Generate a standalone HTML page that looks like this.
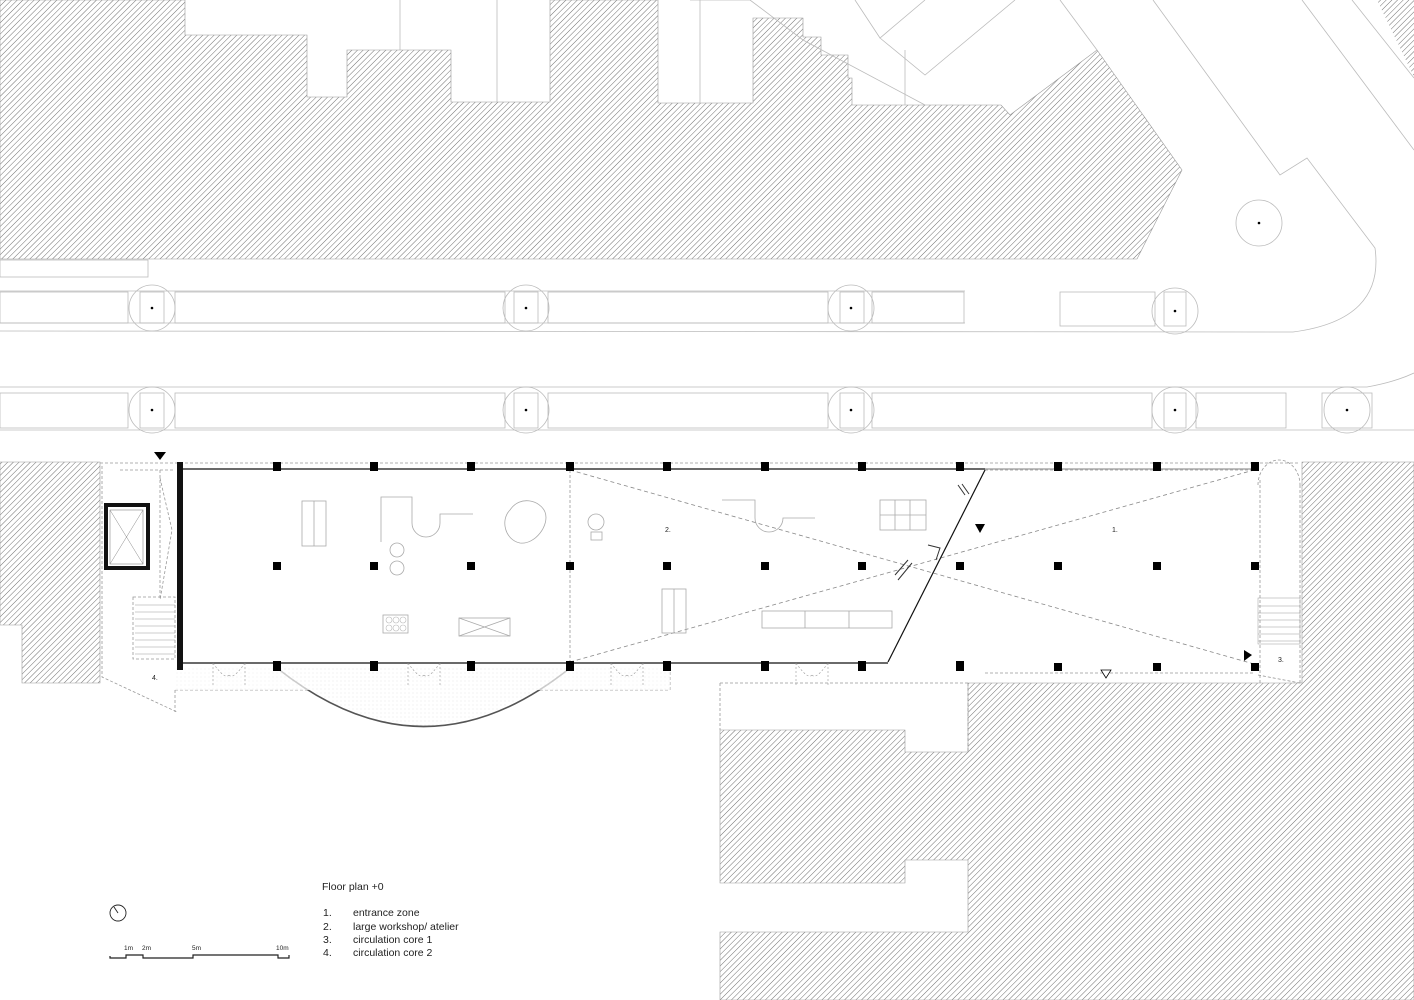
<!DOCTYPE html>
<html><head><meta charset="utf-8"><style>
html,body{margin:0;padding:0;background:#fff;}
svg{display:block;}
text{font-family:"Liberation Sans",sans-serif;fill:#222;}
</style></head><body>
<svg width="1414" height="1000" viewBox="0 0 1414 1000" xmlns="http://www.w3.org/2000/svg">
<defs>
<pattern id="h" patternUnits="userSpaceOnUse" width="4" height="4" patternTransform="rotate(45)">
<rect width="4" height="4" fill="#fff"/>
<line x1="0" y1="0" x2="0" y2="4" stroke="#707070" stroke-width="1"/>
</pattern>
<pattern id="d" patternUnits="userSpaceOnUse" width="4" height="4"><rect width="4" height="4" fill="#fff"/><circle cx="1" cy="1" r="0.4" fill="#ccc"/></pattern>
</defs>
<rect width="1414" height="1000" fill="#fff"/>

<!-- top hatched block -->
<path d="M0,0 L185,0 L185,35 L307,35 L307,97 L347,97 L347,50 L451,50 L451,102 L550,102 L550,0 L658,0 L658,103 L753,103 L753,18 L803,18 L803,37 L821,37 L821,55 L848,55 L848,78 L852,78 L852,105 L1001,105 L1010,115 L1097,50 L1182,170 L1137,259 L0,259 Z" fill="url(#h)" stroke="#999" stroke-width="0.6"/>
<path d="M1377,0 L1414,0 L1414,77 Z" fill="url(#h)"/>
<g fill="none" stroke="#bbb" stroke-width="0.8">
<line x1="400" y1="0" x2="400" y2="50"/><line x1="497" y1="0" x2="497" y2="102"/><line x1="700" y1="0" x2="700" y2="103"/><line x1="905" y1="50" x2="905" y2="105"/>
<polyline points="690,0 750,0 803,40 925,105"/>
<polyline points="855,0 880,38 925,0"/><polyline points="880,38 925,75 1015,0"/>
<line x1="1060" y1="0" x2="1097" y2="50"/>
<path d="M1153,0 L1280,175 L1307,158 L1375,248 Q1385,320 1293,332 L0,331"/>
<line x1="1302" y1="0" x2="1414" y2="150"/>
<line x1="1352" y1="0" x2="1414" y2="78"/>
<path d="M0,387 L1367,387 Q1395,382 1414,373"/>
<rect x="0" y="260" width="148" height="17"/>
<!-- street tree rows -->
<line x1="0" y1="291" x2="965" y2="291"/><line x1="0" y1="323" x2="965" y2="323"/>
<rect x="0" y="292" width="128" height="31"/><rect x="175" y="292" width="330" height="31"/><rect x="548" y="292" width="280" height="31"/><rect x="872" y="292" width="92" height="31"/><rect x="1060" y="292" width="95" height="34"/>
<rect x="0" y="393" width="128" height="35"/><rect x="175" y="393" width="330" height="35"/><rect x="548" y="393" width="280" height="35"/><rect x="872" y="393" width="280" height="35"/><rect x="1196" y="393" width="90" height="35"/><rect x="1322" y="393" width="50" height="35"/>
<line x1="0" y1="430" x2="1414" y2="430"/>
<rect x="140" y="292" width="24" height="31"/><rect x="514" y="292" width="24" height="31"/><rect x="840" y="292" width="24" height="31"/><rect x="1164" y="292" width="22" height="34"/>
<rect x="140" y="393" width="24" height="35"/><rect x="514" y="393" width="24" height="35"/><rect x="840" y="393" width="24" height="35"/><rect x="1164" y="393" width="22" height="35"/>
<ellipse cx="152" cy="308" rx="23" ry="23"/><ellipse cx="526" cy="308" rx="23" ry="23"/><ellipse cx="851" cy="308" rx="23" ry="23"/><ellipse cx="1175" cy="311" rx="23" ry="23"/>
<ellipse cx="152" cy="410" rx="23" ry="23"/><ellipse cx="526" cy="410" rx="23" ry="23"/><ellipse cx="851" cy="410" rx="23" ry="23"/><ellipse cx="1175" cy="410" rx="23" ry="23"/><ellipse cx="1347" cy="410" rx="23" ry="23"/>
<ellipse cx="1259" cy="223" rx="23" ry="23"/>
</g>
<g fill="#000">
<circle cx="152" cy="308" r="1.3"/><circle cx="526" cy="308" r="1.3"/><circle cx="851" cy="308" r="1.3"/><circle cx="1175" cy="311" r="1.3"/>
<circle cx="152" cy="410" r="1.3"/><circle cx="526" cy="410" r="1.3"/><circle cx="851" cy="410" r="1.3"/><circle cx="1175" cy="410" r="1.3"/><circle cx="1347" cy="410" r="1.3"/><circle cx="1259" cy="223" r="1.3"/>
</g>

<!-- lower hatched blocks -->
<path d="M0,462 L100,462 L100,683 L22,683 L22,625 L0,625 Z" fill="url(#h)" stroke="#999" stroke-width="0.6"/>
<path d="M1302,462 L1414,462 L1414,1000 L720,1000 L720,932 L968,932 L968,860 L905,860 L905,883 L720,883 L720,730 L905,730 L905,752 L968,752 L968,683 L1302,683 Z" fill="url(#h)" stroke="#999" stroke-width="0.6"/>
<g fill="none" stroke="#999" stroke-width="0.8" stroke-dasharray="3,2">
<line x1="100" y1="463" x2="1300" y2="463"/>
<line x1="720" y1="683" x2="968" y2="683"/><line x1="720" y1="683" x2="720" y2="730"/>
<line x1="968" y1="683" x2="968" y2="752"/>
<polyline points="102,466 102,677 177,712"/>
<polyline points="175,690 670,690 670,667"/>
<line x1="175" y1="690" x2="175" y2="712"/>
<line x1="1258" y1="675" x2="1300" y2="683"/>
<line x1="1300" y1="485" x2="1300" y2="683"/>
<line x1="1260" y1="480" x2="1260" y2="683"/>
<line x1="570" y1="470" x2="570" y2="662"/>
<line x1="985" y1="673" x2="1255" y2="673"/>
<line x1="985" y1="470" x2="1255" y2="470"/>
<path d="M1258,485 A21,25 0 0 1 1300,485"/>
<rect x="133" y="597" width="42" height="62"/>
<line x1="120" y1="470" x2="175" y2="470"/>
<line x1="160" y1="470" x2="160" y2="600"/>
<polyline points="160,478 172,530 160,600"/>
</g>
<!-- diagonals -->
<g stroke="#888" stroke-width="0.8" stroke-dasharray="4,3" fill="none">
<line x1="570" y1="470" x2="1254" y2="664"/>
<line x1="570" y1="662" x2="1254" y2="470"/>
</g>
<!-- arc -->
<path d="M277,668 Q424,785 570,668 Z" fill="url(#d)" stroke="none"/>
<path d="M277,668 Q424,785 570,668" fill="none" stroke="#555" stroke-width="1.6"/>
<path d="M279,668 Q424,781 568,668" fill="none" stroke="#fff" stroke-width="0.6"/>
<rect x="175" y="668" width="495" height="22" fill="url(#d)" opacity="0.7"/>

<!-- walls -->
<g stroke="#111" stroke-width="1.2" fill="none">
<line x1="178" y1="469" x2="985" y2="469"/>
<line x1="178" y1="663" x2="888" y2="663"/>
<line x1="985" y1="470" x2="888" y2="662"/>
<line x1="985" y1="469" x2="1255" y2="469" stroke="#999"/>
</g>
<rect x="177" y="462" width="6" height="208" fill="#111"/>
<rect x="104" y="503" width="4" height="67" fill="#111"/><rect x="146" y="503" width="4" height="67" fill="#111"/>
<rect x="104" y="503" width="46" height="4" fill="#111"/><rect x="104" y="566" width="46" height="4" fill="#111"/>
<rect x="110" y="510" width="33" height="54" fill="none" stroke="#888" stroke-width="0.6"/>
<path d="M110,510 L143,564 M143,510 L110,564" stroke="#888" stroke-width="0.5"/>
<!-- stairs -->
<g stroke="#999" stroke-width="0.5">
<path d="M135,605 H175 M135,612 H175 M135,619 H175 M135,626 H175 M135,633 H175 M135,640 H175 M135,647 H175 M135,654 H175"/>
<path d="M1258,606 H1300 M1258,613 H1300 M1258,620 H1300 M1258,627 H1300 M1258,634 H1300 M1258,641 H1300"/>
<rect x="1258" y="598" width="42" height="46" fill="none"/>
</g>
<!-- columns -->
<g fill="#000">
<rect x="273" y="462" width="8" height="9"/><rect x="370" y="462" width="8" height="9"/><rect x="467" y="462" width="8" height="9"/><rect x="566" y="462" width="8" height="9"/><rect x="663" y="462" width="8" height="9"/><rect x="761" y="462" width="8" height="9"/><rect x="858" y="462" width="8" height="9"/><rect x="956" y="462" width="8" height="9"/><rect x="1054" y="462" width="8" height="9"/><rect x="1153" y="462" width="8" height="9"/><rect x="1251" y="462" width="8" height="9"/>
<rect x="273" y="562" width="8" height="8"/><rect x="370" y="562" width="8" height="8"/><rect x="467" y="562" width="8" height="8"/><rect x="566" y="562" width="8" height="8"/><rect x="663" y="562" width="8" height="8"/><rect x="761" y="562" width="8" height="8"/><rect x="858" y="562" width="8" height="8"/><rect x="956" y="562" width="8" height="8"/><rect x="1054" y="562" width="8" height="8"/><rect x="1153" y="562" width="8" height="8"/><rect x="1251" y="562" width="8" height="8"/>
<rect x="273" y="661" width="8" height="10"/><rect x="370" y="661" width="8" height="10"/><rect x="467" y="661" width="8" height="10"/><rect x="566" y="661" width="8" height="10"/><rect x="663" y="661" width="8" height="10"/><rect x="761" y="661" width="8" height="10"/><rect x="858" y="661" width="8" height="10"/><rect x="956" y="661" width="8" height="10"/><rect x="1054" y="663" width="8" height="8"/><rect x="1153" y="663" width="8" height="8"/><rect x="1251" y="663" width="8" height="8"/>
<path d="M154,452 L166,452 L160,460 Z"/>
<path d="M975,524 L985,524 L980,533 Z"/>
<path d="M1244,650 L1252,655 L1244,661 Z"/>
</g>
<path d="M1101,670 L1111,670 L1106,678 Z" fill="#fff" stroke="#000" stroke-width="0.8"/>
<!-- furniture -->
<g fill="none" stroke="#aaa" stroke-width="0.8">
<rect x="302" y="501" width="24" height="45"/><line x1="314" y1="501" x2="314" y2="546"/>
<path d="M381,542 V497 H412 V523 A14,14 0 0 0 440,523 V514 H473"/>
<circle cx="397" cy="550" r="7"/><circle cx="397" cy="568" r="7"/>
<path d="M510,510 C520,495 540,500 545,512 C550,525 535,545 520,543 C505,540 500,520 510,510 Z"/>
<rect x="383" y="615" width="25" height="18"/>
<rect x="459" y="618" width="51" height="18"/><path d="M459,618 L510,636 M510,618 L459,636"/>
<circle cx="596" cy="522" r="8"/><rect x="591" y="532" width="11" height="8"/>
<path d="M722,500 H755 V518 A14,14 0 0 0 783,518 V518 H815"/>
<rect x="880" y="500" width="46" height="30"/><path d="M895,500 V530 M910,500 V530 M880,515 H926"/>
<rect x="662" y="589" width="24" height="44"/><line x1="674" y1="589" x2="674" y2="633"/>
<rect x="762" y="611" width="130" height="17"/><path d="M805,611 V628 M849,611 V628"/>
</g>
<g fill="none" stroke="#bbb" stroke-width="0.6">
<circle cx="389" cy="620" r="3"/><circle cx="396" cy="620" r="3"/><circle cx="403" cy="620" r="3"/>
<circle cx="389" cy="628" r="3"/><circle cx="396" cy="628" r="3"/><circle cx="403" cy="628" r="3"/>
</g>
<!-- doors -->
<g fill="none" stroke="#999" stroke-width="0.6" stroke-dasharray="2,2">
<path d="M213,663 V685 M245,663 V685 M213,663 Q225,680 229,675 M245,663 Q233,680 229,675"/>
<path d="M408,663 V685 M440,663 V685 M408,663 Q420,680 424,675 M440,663 Q428,680 424,675"/>
<path d="M611,663 V685 M643,663 V685 M611,663 Q623,680 627,675 M643,663 Q631,680 627,675"/>
<path d="M796,663 V685 M828,663 V685 M796,663 Q808,680 812,675 M828,663 Q816,680 812,675"/>
</g>
<g stroke="#333" stroke-width="1" fill="none">
<path d="M958,485 L965,495 M962,484 L969,494"/>
<path d="M928,545 L940,548 L936,560"/>
<path d="M895,575 L908,560 M898,580 L912,563"/>
</g>
<!-- labels -->
<g font-size="7">
<text x="665" y="532">2.</text>
<text x="1112" y="532">1.</text>
<text x="1278" y="662">3.</text>
<text x="152" y="680">4.</text>
</g>
<!-- legend -->
<text x="322" y="890" font-size="10.5">Floor plan +0</text>
<g font-size="10.5">
<text x="323" y="916">1.</text><text x="353" y="916">entrance zone</text>
<text x="323" y="930">2.</text><text x="353" y="930">large workshop/ atelier</text>
<text x="323" y="943">3.</text><text x="353" y="943">circulation core 1</text>
<text x="323" y="956">4.</text><text x="353" y="956">circulation core 2</text>
</g>
<circle cx="118" cy="913" r="8" fill="none" stroke="#222" stroke-width="0.9"/>
<line x1="114" y1="907" x2="118" y2="913" stroke="#222" stroke-width="0.9"/>
<path d="M110,956 V958 H126 V955 H143 V958 H193 V955 H278 V958 H289 V955" fill="none" stroke="#222" stroke-width="1.2"/>
<g font-size="6.5"><text x="124" y="950">1m</text><text x="142" y="950">2m</text><text x="192" y="950">5m</text><text x="276" y="950">10m</text></g>
</svg>
</body></html>
